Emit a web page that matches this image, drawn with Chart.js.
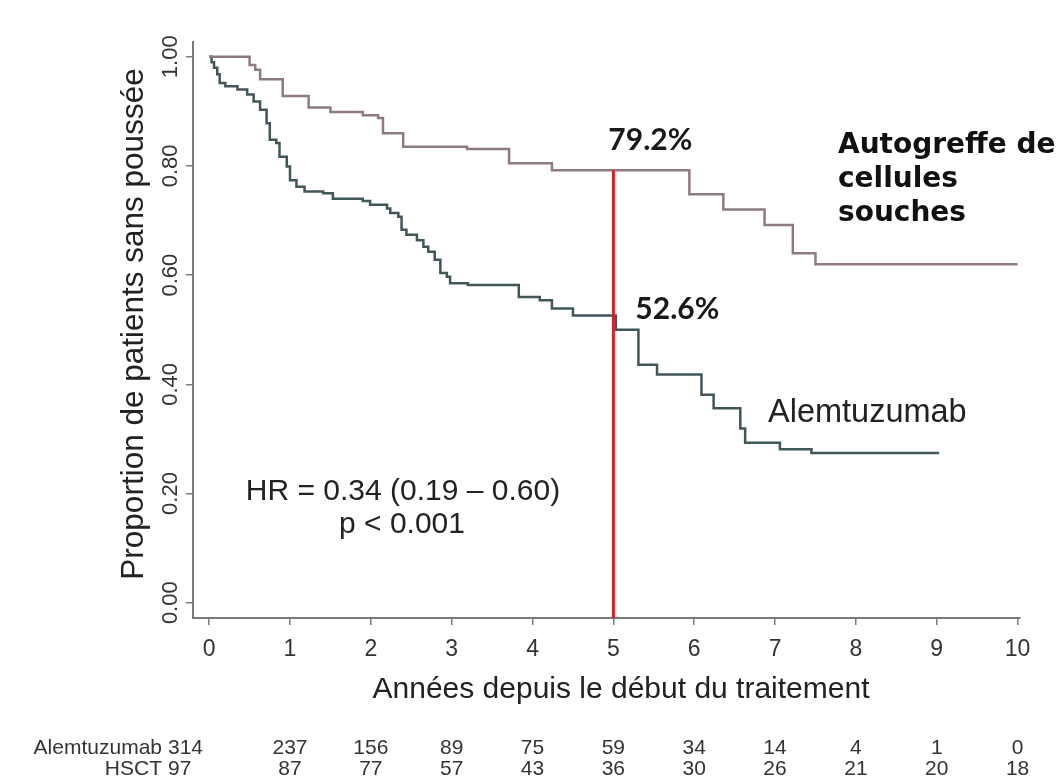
<!DOCTYPE html>
<html>
<head>
<meta charset="utf-8">
<title>Survie sans poussée : HSCT vs Alemtuzumab</title>
<style>
  html, body { margin: 0; padding: 0; background: #ffffff; }
  canvas { display: block; }
</style>
<script src="https://cdn.jsdelivr.net/npm/chart.js@4.4.1/dist/chart.umd.min.js"></script>
</head>
<body>
<canvas id="km" width="1064" height="782"></canvas>
<script>
// Kaplan–Meier estimates: years since treatment start, proportion free of relapse
const hsctTimes = [0, 0.50, 0.57, 0.63, 0.91, 1.23, 1.50, 1.90, 2.09, 2.15, 2.40, 3.19, 3.71, 4.24, 5.94, 6.36, 6.87, 7.22, 7.50, 10.0];
const hsctSurv  = [1.000, 0.985, 0.976, 0.959, 0.928, 0.907, 0.899, 0.893, 0.888, 0.860, 0.835, 0.831, 0.805, 0.792, 0.748, 0.720, 0.692, 0.640, 0.620, 0.620];

const alemTimes = [0, 0.03, 0.06, 0.10, 0.13, 0.20, 0.35, 0.47, 0.55, 0.63, 0.71, 0.75, 0.83, 0.87, 0.96, 1.00, 1.08, 1.18, 1.41, 1.53,
                   1.90, 1.99, 2.20, 2.24, 2.34, 2.38, 2.44, 2.57, 2.65, 2.71, 2.79, 2.86, 2.94, 2.98, 3.20, 3.83, 4.09, 4.24, 4.50,
                   5.03, 5.31, 5.54, 6.09, 6.24, 6.57, 6.63, 7.06, 7.45, 9.03];
const alemSurv  = [1.000, 0.990, 0.980, 0.968, 0.952, 0.946, 0.940, 0.931, 0.918, 0.903, 0.878, 0.848, 0.842, 0.817, 0.799, 0.774, 0.762, 0.753, 0.750, 0.740,
                   0.736, 0.729, 0.722, 0.714, 0.707, 0.683, 0.674, 0.664, 0.652, 0.643, 0.628, 0.604, 0.597, 0.585, 0.582, 0.560, 0.554, 0.539, 0.526,
                   0.500, 0.436, 0.418, 0.381, 0.356, 0.319, 0.293, 0.281, 0.274, 0.274];

// Landmark year highlighted by the vertical line
const landmarkYear = 5;

// Axis ticks
const xTickYears  = [0, 1, 2, 3, 4, 5, 6, 7, 8, 9, 10];
const yTickValues = [0, 0.2, 0.4, 0.6, 0.8, 1.0];

// Number at risk
const riskYears = [0, 1, 2, 3, 4, 5, 6, 7, 8, 9, 10];
const riskAlem  = [314, 237, 156, 89, 75, 59, 34, 14, 4, 1, 0];
const riskHsct  = [97, 87, 77, 57, 43, 36, 30, 26, 21, 20, 18];
const riskGroups = ['Alemtuzumab', 'HSCT'];

// Text
const yTitle = 'Proportion de patients sans poussée';
const xTitle = 'Années depuis le début du traitement';
const hrText = 'HR = 0.34 (0.19 – 0.60)';
const pText  = 'p < 0.001';
const alemName = 'Alemtuzumab';
const hsctName = ['Autogreffe de', 'cellules', 'souches'];

// Axis limits
const xMin = -0.2, xMax = 10.03;
const yMin = -0.028, yMax = 1.027;

const SANS = "'Liberation Sans', Arial, Helvetica, sans-serif";

function survivalAt(times, surv, t) {
  let s = surv[0];
  for (let i = 0; i < times.length; i++) {
    if (times[i] <= t) s = surv[i];
  }
  return s;
}
const pct = v => (v * 100).toFixed(1) + '%';

const hsctAtLandmark = survivalAt(hsctTimes, hsctSurv, landmarkYear);
const alemAtLandmark = survivalAt(alemTimes, alemSurv, landmarkYear);

const toPoints = (ts, ss) => ts.map((t, i) => ({ x: t, y: ss[i] }));

const axisColor = '#7a7a7a';

const annotations = {
  id: 'annotations',
  beforeDraw(chart) {
    const ctx = chart.ctx;
    ctx.save();
    ctx.fillStyle = '#ffffff';
    ctx.fillRect(0, 0, chart.width, chart.height);
    ctx.restore();
  },
  afterDraw(chart) {
    const ctx = chart.ctx;
    const xs = chart.scales.x, ys = chart.scales.y;
    ctx.save();

    // y tick labels, written along the axis
    ctx.fillStyle = '#333333';
    ctx.font = '22px ' + SANS;
    ctx.textAlign = 'center';
    ctx.textBaseline = 'middle';
    ys.ticks.forEach(tk => {
      ctx.save();
      ctx.translate(171, ys.getPixelForValue(tk.value));
      ctx.rotate(-Math.PI / 2);
      ctx.fillText(tk.value.toFixed(2), 0, 0);
      ctx.restore();
    });

    // y axis title
    ctx.fillStyle = '#222222';
    ctx.font = '31.5px ' + SANS;
    ctx.save();
    ctx.translate(134, 324);
    ctx.rotate(-Math.PI / 2);
    ctx.fillText(yTitle, 0, 0);
    ctx.restore();

    // x axis title
    ctx.font = '30px ' + SANS;
    ctx.fillText(xTitle, 621, 690);

    // landmark values
    ctx.font = 'bold 30px Lato, ' + SANS;
    ctx.fillStyle = '#1a1a1a';
    ctx.textAlign = 'left';
    ctx.textBaseline = 'alphabetic';
    const lx = xs.getPixelForValue(landmarkYear);
    ctx.fillText(pct(hsctAtLandmark), lx - 5, ys.getPixelForValue(hsctAtLandmark) - 20);
    ctx.fillText(pct(alemAtLandmark), lx + 22, ys.getPixelForValue(alemAtLandmark) + 3);

    // group names
    ctx.fillStyle = '#222222';
    ctx.font = '32.5px ' + SANS;
    ctx.textBaseline = 'middle';
    ctx.fillText(alemName, 768, 413);

    ctx.font = 'bold 28px "DejaVu Sans", ' + SANS;
    ctx.fillStyle = '#111111';
    hsctName.forEach((line, i) => ctx.fillText(line, 838, 146 + i * 34));

    // hazard ratio
    ctx.fillStyle = '#222222';
    ctx.font = '30px ' + SANS;
    ctx.textAlign = 'center';
    ctx.fillText(hrText, 403, 492);
    ctx.fillText(pText, 402, 525);

    // number-at-risk table: names right-aligned, first column set next to them,
    // following columns centred under the year ticks
    ctx.font = '21px ' + SANS;
    ctx.fillStyle = '#333333';
    const labelRight = 162;
    const rows = [riskAlem, riskHsct];
    const rowY = [748, 769];
    rows.forEach((vals, r) => {
      ctx.textAlign = 'right';
      ctx.fillText(riskGroups[r], labelRight, rowY[r]);
      vals.forEach((v, i) => {
        if (i === 0) {
          ctx.textAlign = 'left';
          ctx.fillText(String(v), labelRight + 6, rowY[r]);
        } else {
          ctx.textAlign = 'center';
          ctx.fillText(String(v), xs.getPixelForValue(riskYears[i]), rowY[r]);
        }
      });
    });

    ctx.restore();
  }
};

new Chart(document.getElementById('km'), {
  type: 'line',
  data: {
    datasets: [
      {
        label: 'Année ' + landmarkYear,
        data: [{ x: landmarkYear, y: hsctAtLandmark }, { x: landmarkYear, y: yMin }],
        borderColor: '#d3212b',
        borderWidth: 3,
        pointRadius: 0,
        fill: false
      },
      {
        label: 'HSCT',
        data: toPoints(hsctTimes, hsctSurv),
        stepped: 'before',
        borderColor: '#8f7b7d',
        borderWidth: 2.5,
        pointRadius: 0,
        fill: false
      },
      {
        label: 'Alemtuzumab',
        data: toPoints(alemTimes, alemSurv),
        stepped: 'before',
        borderColor: '#415659',
        borderWidth: 2.5,
        pointRadius: 0,
        fill: false
      }
    ]
  },
  options: {
    responsive: false,
    animation: false,
    devicePixelRatio: 1,
    layout: { padding: { top: 42, right: 44, left: 0, bottom: 0 } },
    plugins: { legend: { display: false }, tooltip: { enabled: false } },
    scales: {
      x: {
        type: 'linear',
        min: xMin,
        max: xMax,
        afterBuildTicks: s => { s.ticks = xTickYears.map(v => ({ value: v })); },
        afterFit: s => { s.height = 164; },
        grid: { drawOnChartArea: false, drawTicks: true, tickLength: 7, color: axisColor, lineWidth: 1.5 },
        border: { display: true, color: axisColor, width: 2 },
        ticks: {
          font: { family: SANS, size: 23 },
          color: '#333333',
          padding: 11,
          maxRotation: 0,
          autoSkip: false,
          callback: v => String(v)
        }
      },
      y: {
        type: 'linear',
        min: yMin,
        max: yMax,
        afterBuildTicks: s => { s.ticks = yTickValues.map(v => ({ value: v })); },
        afterFit: s => { s.width = 193; },
        grid: { drawOnChartArea: false, drawTicks: true, tickLength: 7, color: axisColor, lineWidth: 1.5 },
        border: { display: true, color: axisColor, width: 2 },
        ticks: { display: false }
      }
    }
  },
  plugins: [annotations]
});
</script>
</body>
</html>
